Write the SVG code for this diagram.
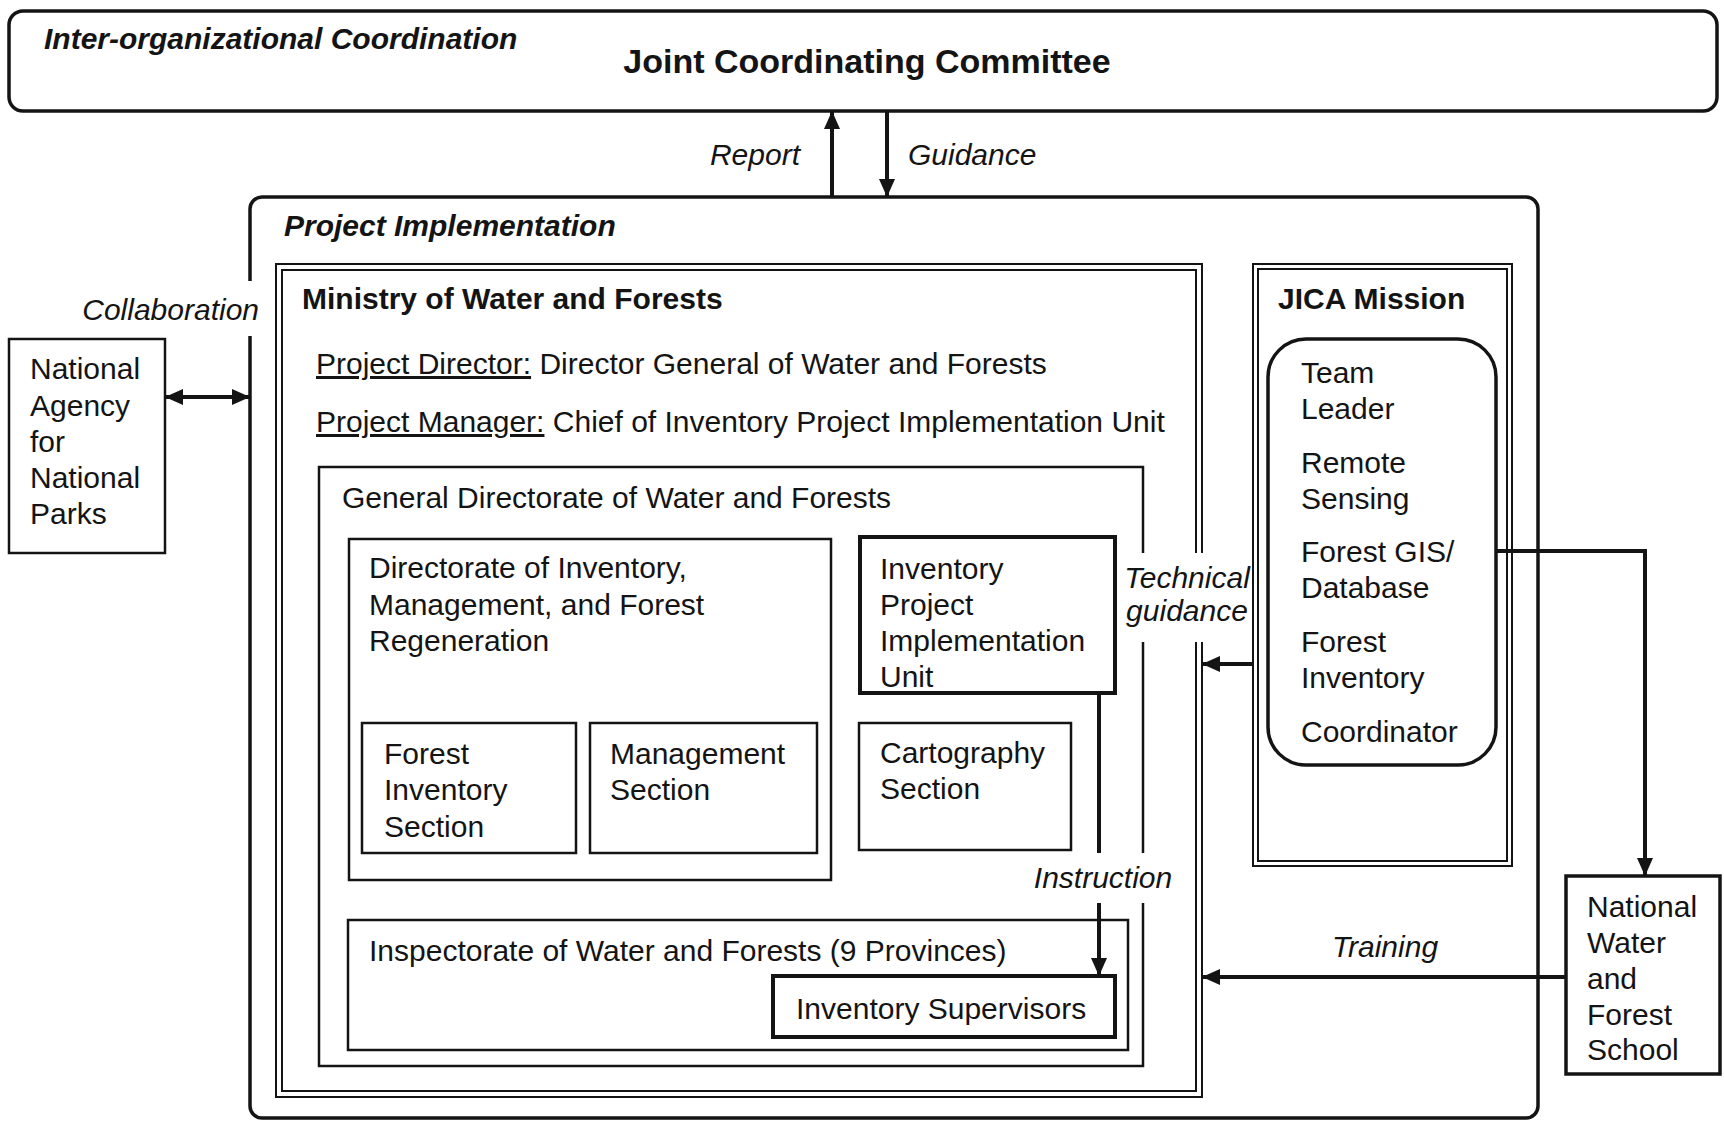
<svg xmlns="http://www.w3.org/2000/svg" width="1724" height="1121" viewBox="0 0 1724 1121">
<defs>
<style>
text{font-family:"Liberation Sans",Arial,sans-serif;font-size:30px;fill:#141414}
.b{font-weight:bold}
.i{font-style:italic}
.box{fill:none;stroke:#141414;stroke-width:2.5}
.thick{fill:none;stroke:#141414;stroke-width:4}
.outer{fill:none;stroke:#141414;stroke-width:3.5}
.dbl{fill:none;stroke:#141414;stroke-width:2}
.arr{fill:none;stroke:#141414;stroke-width:4}
.bg{fill:#fff;stroke:none}
</style>
<marker id="ah" markerUnits="userSpaceOnUse" markerWidth="18" markerHeight="16" refX="17" refY="8" orient="auto-start-reverse"><path d="M0,0 L18,8 L0,16 Z" fill="#141414"/></marker>
</defs>
<rect width="1724" height="1121" fill="#fff"/>

<g id="jcc">
<rect class="outer" x="9" y="11" width="1708" height="100" rx="14"/>
<text class="b i" x="44" y="49">Inter-organizational Coordination</text>
<text class="b" x="867" y="73" text-anchor="middle" style="font-size:34px">Joint Coordinating Committee</text>
</g>

<g id="project-implementation">
<rect class="outer" x="250" y="197" width="1288" height="921" rx="12"/>
<text class="b i" x="284" y="236">Project Implementation</text>
</g>

<g id="ministry">
<rect class="dbl" x="276" y="264" width="926" height="833"/>
<rect class="dbl" x="282" y="270" width="914" height="821"/>
<text class="b" x="302" y="309">Ministry of Water and Forests</text>
<text x="316" y="374"><tspan style="text-decoration:underline">Project Director:</tspan> Director General of Water and Forests</text>
<text x="316" y="432"><tspan style="text-decoration:underline">Project Manager:</tspan> Chief of Inventory Project Implementation Unit</text>
</g>

<g id="general-directorate">
<rect class="box" x="319" y="467" width="824" height="599"/>
<text x="342" y="508">General Directorate of Water and Forests</text>
</g>

<g id="directorate-inventory">
<rect class="box" x="349" y="539" width="482" height="341"/>
<text x="369" y="578">Directorate of Inventory,</text>
<text x="369" y="615">Management, and Forest</text>
<text x="369" y="651">Regeneration</text>
</g>

<g id="forest-inventory-section">
<rect class="box" x="362" y="723" width="214" height="130"/>
<text x="384" y="764">Forest</text>
<text x="384" y="800">Inventory</text>
<text x="384" y="837">Section</text>
</g>

<g id="management-section">
<rect class="box" x="590" y="723" width="227" height="130"/>
<text x="610" y="764">Management</text>
<text x="610" y="800">Section</text>
</g>

<g id="ipiu">
<rect class="thick" x="860" y="537" width="255" height="156"/>
<text x="880" y="579">Inventory</text>
<text x="880" y="615">Project</text>
<text x="880" y="651">Implementation</text>
<text x="880" y="687">Unit</text>
</g>

<g id="cartography-section">
<rect class="box" x="859" y="723" width="212" height="127"/>
<text x="880" y="763">Cartography</text>
<text x="880" y="799">Section</text>
</g>

<g id="inspectorate">
<rect class="box" x="348" y="920" width="780" height="130"/>
<text x="369" y="961">Inspectorate of Water and Forests (9 Provinces)</text>
</g>

<g id="inventory-supervisors">
<rect class="thick" x="773" y="976" width="342" height="61"/>
<text x="796" y="1019">Inventory Supervisors</text>
</g>

<g id="jica-mission">
<rect class="dbl" x="1253" y="264" width="259" height="602"/>
<rect class="dbl" x="1258" y="269" width="249" height="592"/>
<text class="b" x="1278" y="309">JICA Mission</text>
</g>

<g id="jica-team">
<rect class="outer" x="1268" y="339" width="228" height="426" rx="38"/>
<text x="1301" y="383">Team</text>
<text x="1301" y="419">Leader</text>
<text x="1301" y="473">Remote</text>
<text x="1301" y="509">Sensing</text>
<text x="1301" y="562">Forest GIS/</text>
<text x="1301" y="598">Database</text>
<text x="1301" y="652">Forest</text>
<text x="1301" y="688">Inventory</text>
<text x="1301" y="742">Coordinator</text>
</g>

<g id="national-agency">
<rect class="box" x="9" y="339" width="156" height="214"/>
<text x="30" y="379">National</text>
<text x="30" y="416">Agency</text>
<text x="30" y="452">for</text>
<text x="30" y="488">National</text>
<text x="30" y="524">Parks</text>
</g>

<g id="nwfs">
<rect class="outer" x="1566" y="876" width="154" height="198"/>
<text x="1587" y="917">National</text>
<text x="1587" y="953">Water</text>
<text x="1587" y="989">and</text>
<text x="1587" y="1025">Forest</text>
<text x="1587" y="1060">School</text>
</g>

<g id="connectors">
<line class="arr" x1="832" y1="197" x2="832" y2="112" marker-end="url(#ah)"/>
<line class="arr" x1="887" y1="111" x2="887" y2="196" marker-end="url(#ah)"/>
<line class="arr" x1="166" y1="397" x2="249" y2="397" marker-start="url(#ah)" marker-end="url(#ah)"/>
<line class="arr" x1="1253" y1="664" x2="1203" y2="664" marker-end="url(#ah)"/>
<path class="arr" d="M1496,551 H1645 V875" marker-end="url(#ah)"/>
<line class="arr" x1="1566" y1="977" x2="1203" y2="977" marker-end="url(#ah)"/>
<line class="arr" x1="1099" y1="693" x2="1099" y2="975" marker-end="url(#ah)"/>
</g>

<g id="labels">
<text class="i" x="800" y="165" text-anchor="end">Report</text>
<text class="i" x="908" y="165">Guidance</text>
<rect class="bg" x="240" y="281" width="22" height="55"/>
<text class="i" x="259" y="320" text-anchor="end">Collaboration</text>
<rect class="bg" x="1118" y="553" width="133" height="89"/>
<text class="i" x="1187" y="588" text-anchor="middle">Technical</text>
<text class="i" x="1187" y="621" text-anchor="middle">guidance</text>
<rect class="bg" x="1074" y="853" width="102" height="50"/>
<rect class="bg" x="1030" y="862" width="46" height="41"/>
<text class="i" x="1103" y="888" text-anchor="middle">Instruction</text>
<text class="i" x="1385" y="957" text-anchor="middle">Training</text>
</g>
</svg>
